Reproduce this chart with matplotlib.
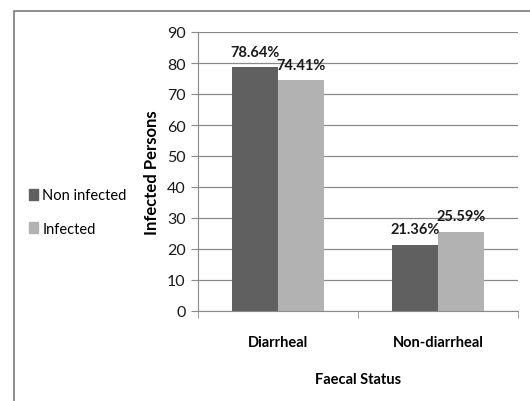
import matplotlib.pyplot as plt
import numpy as np
from matplotlib.patches import Patch, Rectangle

categories = ['Diarrheal', 'Non-diarrheal']
non_infected = [78.64, 21.36]
infected = [74.41, 25.59]
series_names = ['Non infected', 'Infected']

plt.rcParams['font.family'] = ['Lato', 'DejaVu Sans']

dark = '#606060'
light = '#b2b2b2'
grid = '#8a8a8a'

fig = plt.figure(figsize=(5.3, 4.02), dpi=100)
ax = fig.add_axes([198/530, 1-312/402, 320/530, 279/402])

x = np.arange(len(categories))
w = 0.285
b1 = ax.bar(x - w/2, non_infected, w, color=dark, zorder=3)
b2 = ax.bar(x + w/2, infected, w, color=light, zorder=3)

for bars, vals in ((b1, non_infected), (b2, infected)):
    for rect, v in zip(bars, vals):
        ax.annotate(f'{v:.2f}%', (rect.get_x() + rect.get_width()/2, v),
                    xytext=(0, 6), textcoords='offset points',
                    ha='center', va='bottom', fontsize=10.5, fontweight='bold', color='#1a1a1a')

ax.set_ylim(0, 90)
ax.set_yticks(range(0, 91, 10))
ax.set_xlim(-0.5, 1.5)
ax.set_xticks(x)
ax.set_xticklabels(categories, fontsize=10.5, fontweight='bold')
ax.set_xticks([-0.5, 0.5, 1.5], minor=True)
ax.tick_params(axis='x', which='major', length=0, pad=17)
ax.tick_params(axis='x', which='minor', length=5, color=grid, direction='out')
ax.tick_params(axis='y', length=5, color=grid, labelsize=11.5, labelcolor='#1a1a1a', pad=4)

ax.yaxis.grid(True, color=grid, linewidth=0.9, zorder=0)
ax.set_axisbelow(True)
for s in ('top', 'right'):
    ax.spines[s].set_visible(False)
for s in ('left', 'bottom'):
    ax.spines[s].set_color(grid)

ax.set_ylabel('Infected Persons', fontsize=12, fontweight='bold', labelpad=5)
ax.set_xlabel('Faecal Status', fontsize=10.5, fontweight='bold', labelpad=17)

handles = [Patch(color=dark), Patch(color=light)]
fig.legend(handles, series_names, loc='center left', bbox_to_anchor=(0.03, 0.47),
           frameon=False, handlelength=0.6, handleheight=0.8, handletextpad=0.3,
           labelspacing=1.35, fontsize=10.5)

# outer chart border, open at right and bottom
fig.add_artist(Rectangle((14/530, -0.1), 1.2, 1 - 12/402 + 0.1,
                         transform=fig.transFigure, fill=False,
                         edgecolor='#7a7a7a', linewidth=1.2))

fig.savefig('out.png', dpi=100)
